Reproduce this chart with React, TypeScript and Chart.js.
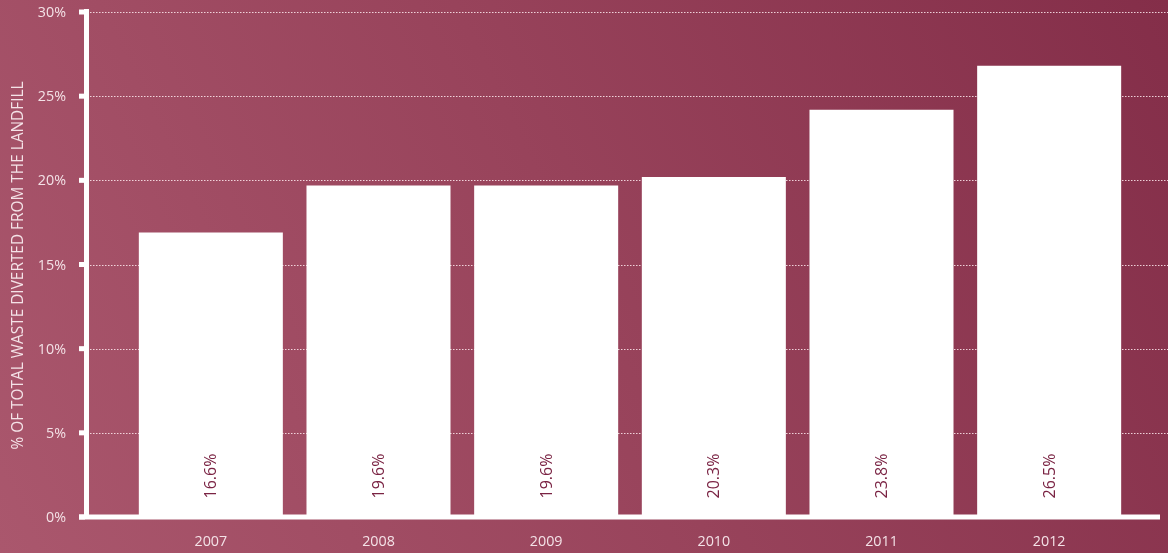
import React, { useEffect, useRef } from "react";
import { Chart, registerables } from "chart.js";

Chart.register(...registerables);

const years = ["2007", "2008", "2009", "2010", "2011", "2012"];
const barValues = [16.9, 19.7, 19.7, 20.2, 24.2, 26.8];
const valueLabels = ["16.6%", "19.6%", "19.6%", "20.3%", "23.8%", "26.5%"];
const yTicks = [0, 5, 10, 15, 20, 25, 30];
const yTitle = "% OF TOTAL WASTE DIVERTED FROM THE LANDFILL";

const FONT = "'Open Sans', 'Noto Sans', sans-serif";
const TEXT = "#f4e2e7";

const decorPlugin = {
  id: "decor",
  beforeDraw(chart: any) {
    const { ctx, width, height } = chart;
    const g = ctx.createLinearGradient(0, height, width, 0);
    g.addColorStop(0, "#aa576d");
    g.addColorStop(0.5, "#98435b");
    g.addColorStop(1, "#842e49");
    ctx.save();
    ctx.fillStyle = g;
    ctx.fillRect(0, 0, width, height);
    ctx.restore();
  },
  beforeDatasetsDraw(chart: any) {
    const { ctx, width } = chart;
    const y = chart.scales.y;
    ctx.save();
    ctx.strokeStyle = "rgba(255,235,240,0.85)";
    ctx.lineWidth = 1;
    ctx.setLineDash([1.5, 1.5]);
    yTicks.forEach((v) => {
      if (v === 0) return;
      const py = Math.round(y.getPixelForValue(v)) + 0.5;
      ctx.beginPath();
      ctx.moveTo(90, py);
      ctx.lineTo(width, py);
      ctx.stroke();
    });
    ctx.restore();
  },
  afterDatasetsDraw(chart: any) {
    const { ctx } = chart;
    const x = chart.scales.x;
    const y = chart.scales.y;
    const y0 = y.getPixelForValue(0);
    const yTop = y.getPixelForValue(30);
    ctx.save();
    ctx.fillStyle = "#ffffff";
    // y axis line
    ctx.fillRect(84, yTop - 3, 5, y0 - yTop + 5);
    // tick squares
    yTicks.forEach((v) => {
      const py = y.getPixelForValue(v);
      ctx.fillRect(79, py - 2.5, 6, 5);
    });
    // x axis line
    ctx.fillRect(79, y0 - 2.5, 1081, 5);

    // y tick labels
    ctx.fillStyle = TEXT;
    ctx.font = `14.3px ${FONT}`;
    ctx.textAlign = "right";
    ctx.textBaseline = "middle";
    yTicks.forEach((v) => {
      ctx.fillText(`${v}%`, 66, y.getPixelForValue(v) + 1);
    });

    // x labels
    ctx.textAlign = "center";
    years.forEach((lab, i) => {
      ctx.fillText(lab, x.getPixelForValue(i), 542);
    });

    // y title
    ctx.save();
    ctx.translate(19, 265.5);
    ctx.rotate(-Math.PI / 2);
    ctx.font = `15.4px ${FONT}`;
    ctx.fillText(yTitle, 0, 0);
    ctx.restore();

    // value labels inside bars
    ctx.fillStyle = "#7a2343";
    ctx.font = `16px ${FONT}`;
    valueLabels.forEach((lab, i) => {
      ctx.save();
      ctx.translate(x.getPixelForValue(i) + 1, 476);
      ctx.rotate(-Math.PI / 2);
      ctx.textAlign = "center";
      ctx.textBaseline = "middle";
      ctx.fillText(lab, 0, 0);
      ctx.restore();
    });
    ctx.restore();
  },
};

export default function App() {
  const ref = useRef<HTMLCanvasElement | null>(null);
  useEffect(() => {
    document.body.style.margin = "0";
    if (!ref.current) return;
    const chart = new Chart(ref.current, {
      type: "bar",
      data: {
        labels: years,
        datasets: [
          {
            data: barValues,
            backgroundColor: "#ffffff",
            borderWidth: 0,
            barPercentage: 0.859,
            categoryPercentage: 1,
          },
        ],
      },
      options: {
        animation: false,
        responsive: false,
        maintainAspectRatio: false,
        events: [],
        layout: { padding: { left: 127, right: 35, top: 12, bottom: 36 } },
        plugins: { legend: { display: false }, tooltip: { enabled: false } },
        scales: {
          x: { display: false, offset: true },
          y: { display: false, min: 0, max: 30 },
        },
      },
      plugins: [decorPlugin],
    });
    return () => chart.destroy();
  }, []);
  return (
    <div style={{ width: 1168, height: 553 }}>
      <canvas ref={ref} width={1168} height={553} style={{ display: "block" }} />
    </div>
  );
}
